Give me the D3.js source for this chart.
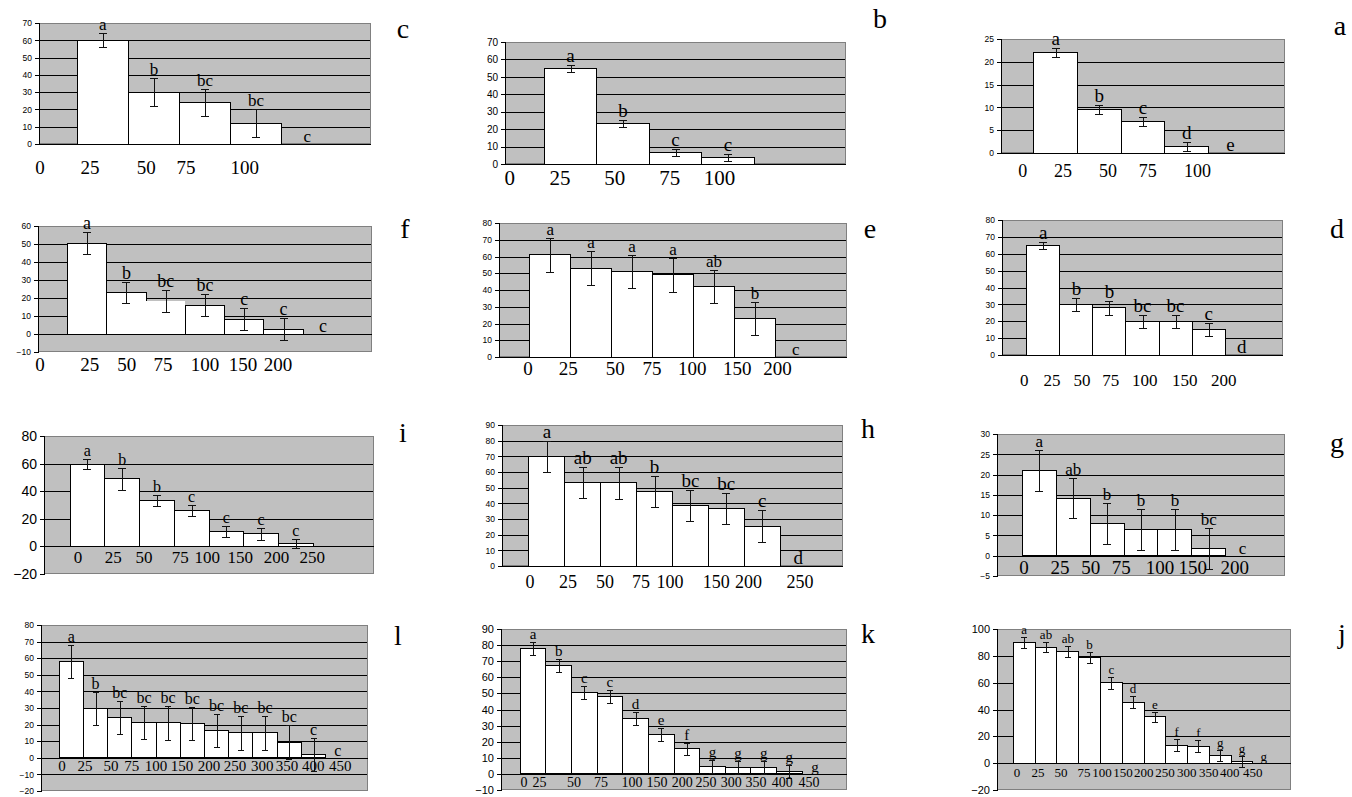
<!DOCTYPE html>
<html>
<head>
<meta charset="utf-8">
<script src="https://cdn.jsdelivr.net/npm/d3@7"></script>
<style>
  html,body{margin:0;padding:0;background:#fff;}
  svg{display:block;}
  .tk{font-family:"Liberation Sans",Arial,sans-serif;fill:#000;}
  .tm{font-family:"Liberation Serif","Times New Roman",serif;fill:#000;}
</style>
</head>
<body>
<svg id="fig" width="1352" height="797"></svg>
<script>
// ---- data ----
const doses5  = ['0','25','50','75','100'];
const doses7  = ['0','25','50','75','100','150','200'];
const doses8  = ['0','25','50','75','100','150','200','250'];
const doses12 = ['0','25','50','75','100','150','200','250','300','350','400','450'];

const valsA = [22, 9.5, 7, 1.5, 0];
const errA  = [1, 1, 1, 1, 0];
const sigA  = ['a','b','c','d','e'];

const valsB = [55, 23, 6.5, 4];
const errB  = [2, 2, 2, 2];
const sigB  = ['a','b','c','c'];

const valsC = [60, 30, 24, 12, 0];
const errC  = [4, 8, 8, 8, 0];
const sigC  = ['a','b','bc','bc','c'];

const valsD = [65, 30, 28, 20, 20, 15, 0];
const errD  = [2, 4, 4, 4, 4, 4, 0];
const sigD  = ['a','b','b','bc','bc','c','d'];

const valsE = [61, 53, 51, 49, 42, 23, 0];
const errE  = [10, 10, 10, 10, 10, 10, 0];
const sigE  = ['a','a','a','a','ab','b','c'];

const valsF = [50.5, 23, 18.5, 16, 8.2, 2.7, 0];
const errF  = [6, 6, 6, 6, 6, 6, 0];
const sigF  = ['a','b','bc','bc','c','c','c'];

const valsG = [21, 14.2, 8, 6.5, 6.5, 1.8, 0];
const errG  = [5, 5, 5, 5, 5, 5, 0];
const sigG  = ['a','ab','b','b','b','bc','c'];

const valsH = [70, 53.5, 53, 47.5, 38.5, 36.5, 25.5, 0];
const errH  = [10, 10, 10, 10, 10, 10, 10, 0];
const sigH  = ['a','ab','ab','b','bc','bc','c','d'];

const valsI = [59.5, 49, 33, 26, 10.5, 9, 2];
const errI  = [3.5, 8, 4, 4, 4, 4, 3.5];
const sigI  = ['a','b','b','c','c','c','c'];

const valsJ = [90, 86.5, 83.5, 78.5, 60, 45.5, 34.5, 13.5, 12.5, 5.5, 1.5, 0];
const errJ  = [4, 4, 4, 4, 4.5, 4.5, 4, 4.5, 4.5, 4, 4, 0];
const sigJ  = ['a','ab','ab','b','c','d','e','f','f','g','g','g'];

const valsK = [78, 67.5, 50.5, 48, 34.5, 24.5, 15.5, 4.5, 4, 4, 1.5, 0];
const errK  = [4, 4, 4, 4, 4, 4, 4, 4, 4, 4, 4, 0];
const sigK  = ['a','b','c','c','d','e','f','g','g','g','g','g'];

const valsL = [58, 29.5, 24.5, 21.5, 21, 20.5, 16.5, 15, 15, 9.5, 2.2, 0];
const errL  = [10, 10, 10, 10, 10, 10, 10, 10, 10, 10, 10, 0];
const sigL  = ['a','b','bc','bc','bc','bc','bc','bc','bc','bc','c','c'];

// ---- layout (plot boxes in px, typed dose labels in slot units) ----
const panels = [
  {id:'c', data:[valsC,errC,sigC,doses5], x0:39,  x1:371,  y0:23,  y1:144, yd:[0,70],   step:10, ft:8.5, fs:17, fl:19, lb:174,
   lab:[-0.73,0.25,1.35,2.13,3.28], pl:[403,38]},
  {id:'b', data:[valsB,errB,sigB,doses5], x0:505, x1:846,  y0:42,  y1:164, yd:[0,70],   step:10, ft:10,  fs:19, fl:21, lb:185,
   lab:[-0.66,0.30,1.34,2.39,3.34], pl:[880,28]},
  {id:'a', data:[valsA,errA,sigA,doses5], x0:1001,x1:1285, y0:39,  y1:153, yd:[0,25],   step:5,  ft:8.5, fs:19, fl:18, lb:177,
   lab:[-0.25,0.67,1.70,2.61,3.75], pl:[1340,35]},
  {id:'f', data:[valsF,errF,sigF,doses7], x0:38,  x1:372,  y0:226, y1:352, yd:[-10,60], step:10, ft:8.5, fs:18, fl:19, lb:371,
   lab:[-0.70,0.57,1.51,2.43,3.50,4.47,5.36], pl:[405,238], plain:[2]},
  {id:'e', data:[valsE,errE,sigE,doses7], x0:499, x1:847,  y0:223, y1:357, yd:[0,80],   step:10, ft:8.5, fs:17, fl:19, lb:375,
   lab:[-0.04,0.94,2.09,2.99,3.97,5.07,6.05], pl:[870,238]},
  {id:'d', data:[valsD,errD,sigD,doses7], x0:1002,x1:1283, y0:220, y1:355, yd:[0,80],   step:10, ft:8.5, fs:19, fl:17, lb:386,
   lab:[-0.08,0.76,1.67,2.54,3.57,4.78,5.96], pl:[1337,238]},
  {id:'i', data:[valsI,errI,sigI,doses8], x0:44,  x1:374,  y0:436, y1:574, yd:[-20,80], step:20, ft:14,  fs:16, fl:17, lb:563,
   lab:[0.23,1.24,2.13,3.17,3.95,4.90,5.94,6.97], pl:[403,442]},
  {id:'h', data:[valsH,errH,sigH,doses8], x0:502, x1:843,  y0:425, y1:566, yd:[0,90],   step:10, ft:8.5, fs:19, fl:18, lb:588,
   lab:[0.03,1.09,2.12,3.12,3.93,5.22,6.12,7.55], pl:[868,438]},
  {id:'g', data:[valsG,errG,sigG,doses7], x0:997, x1:1285, y0:434, y1:576, yd:[-5,30],  step:5,  ft:8.5, fs:17, fl:19, lb:574,
   lab:[0.05,1.11,2.02,2.92,4.06,5.03,6.27], pl:[1337,452]},
  {id:'l', data:[valsL,errL,sigL,doses12], x0:41, x1:368,  y0:625, y1:791, yd:[-20,80], step:10, ft:8.5, fs:16, fl:15, lb:771,
   lab:[0.12,1.07,2.14,3.0,4.0,5.07,6.19,7.26,8.38,9.41,10.49,11.6], pl:[398,645]},
  {id:'k', data:[valsK,errK,sigK,doses12], x0:501,x1:847,  y0:629, y1:790, yd:[-10,90], step:10, ft:11,  fs:15, fl:14, lb:787,
   lab:[0.15,0.75,2.1,3.15,4.36,5.34,6.32,7.25,8.23,9.2,10.22,11.27], pl:[868,643]},
  {id:'j', data:[valsJ,errJ,sigJ,doses12], x0:997,x1:1291, y0:629, y1:790, yd:[-20,100],step:20, ft:11,  fs:13, fl:13, lb:777,
   lab:[0.17,1.13,2.19,3.24,4.07,5.03,5.99,6.96,7.96,8.97,9.94,10.99], pl:[1342,643]}
];

const svg = d3.select('#fig');

function drawPanel(p){
  const [vals, errs, sig, doses] = p.data;
  const n = doses.length;
  const x = d3.scaleLinear().domain([-0.75, n + 0.75]).range([p.x0, p.x1]);
  const y = d3.scaleLinear().domain(p.yd).range([p.y1, p.y0]);
  const g = svg.append('g').attr('shape-rendering','crispEdges');
  const ticks = d3.range(p.yd[0], p.yd[1] + p.step/2, p.step);
  const cap = n > 8 ? 3 : 4;

  // plot area + grid
  g.append('rect').attr('x',p.x0).attr('y',p.y0).attr('width',p.x1-p.x0).attr('height',p.y1-p.y0).attr('fill','#c0c0c0');
  g.append('g').selectAll('line').data(ticks.slice(1,-1)).join('line')
    .attr('x1',p.x0).attr('x2',p.x1).attr('y1',d=>Math.round(y(d))+.5).attr('y2',d=>Math.round(y(d))+.5)
    .attr('stroke','#000').attr('stroke-width',1);
  g.append('rect').attr('x',p.x0+.5).attr('y',p.y0+.5).attr('width',p.x1-p.x0-1).attr('height',p.y1-p.y0-1)
    .attr('fill','none').attr('stroke','#808080');

  // y axis
  const ax = g.append('g').attr('transform',`translate(${p.x0},0)`)
    .call(d3.axisLeft(y).tickValues(ticks).tickSize(4).tickPadding(3).tickFormat(d3.format('d')));
  ax.select('.domain').attr('stroke','#000');
  ax.selectAll('.tick line').attr('stroke','#000');
  ax.selectAll('text').attr('class','tk').style('font-size',p.ft+'px').attr('fill','#000');

  // bars
  const idx = d3.range(vals.length);
  g.append('g').selectAll('rect').data(idx.filter(i=>vals[i]>0)).join('rect')
    .attr('x',i=>x(i)).attr('y',i=>y(vals[i])).attr('width',i=>x(i+1)-x(i)).attr('height',i=>y(0)-y(vals[i]))
    .attr('fill','#fff').attr('stroke',i=>(p.plain||[]).includes(i)?'none':'#000').attr('stroke-width',1);

  // category axis at zero
  g.append('line').attr('x1',p.x0).attr('x2',p.x1).attr('y1',Math.round(y(0))+.5).attr('y2',Math.round(y(0))+.5)
    .attr('stroke','#000');

  // error bars
  const eb = g.append('g').attr('stroke','#111').attr('stroke-width',1)
    .selectAll('g').data(idx.filter(i=>errs[i]>0)).join('g');
  eb.append('line').attr('x1',i=>Math.round(x(i+.5))+.5).attr('x2',i=>Math.round(x(i+.5))+.5)
    .attr('y1',i=>y(vals[i]-errs[i])).attr('y2',i=>y(vals[i]+errs[i]));
  eb.append('line').attr('x1',i=>x(i+.5)-cap).attr('x2',i=>x(i+.5)+cap)
    .attr('y1',i=>Math.round(y(vals[i]+errs[i]))+.5).attr('y2',i=>Math.round(y(vals[i]+errs[i]))+.5);
  eb.append('line').attr('x1',i=>x(i+.5)-cap).attr('x2',i=>x(i+.5)+cap)
    .attr('y1',i=>Math.round(y(vals[i]-errs[i]))+.5).attr('y2',i=>Math.round(y(vals[i]-errs[i]))+.5);

  // significance letters
  svg.append('g').selectAll('text').data(idx).join('text').attr('class','tm')
    .attr('x',i=>x(i+.5)).attr('y',i=>errs[i]>0 ? y(vals[i]+errs[i])-3 : y(0)-2)
    .attr('text-anchor','middle').style('font-size',p.fs+'px').text(i=>sig[i]);

  // typed dose labels
  svg.append('g').selectAll('text').data(doses).join('text').attr('class','tm')
    .attr('x',(d,i)=>x(p.lab[i])).attr('y',p.lb).attr('text-anchor','middle')
    .style('font-size',p.fl+'px').text(d=>d);

  // panel letter
  svg.append('text').attr('class','tm').attr('x',p.pl[0]).attr('y',p.pl[1]).attr('text-anchor','middle')
    .style('font-size','28px').text(p.id);
}

panels.forEach(drawPanel);
</script>
</body>
</html>
